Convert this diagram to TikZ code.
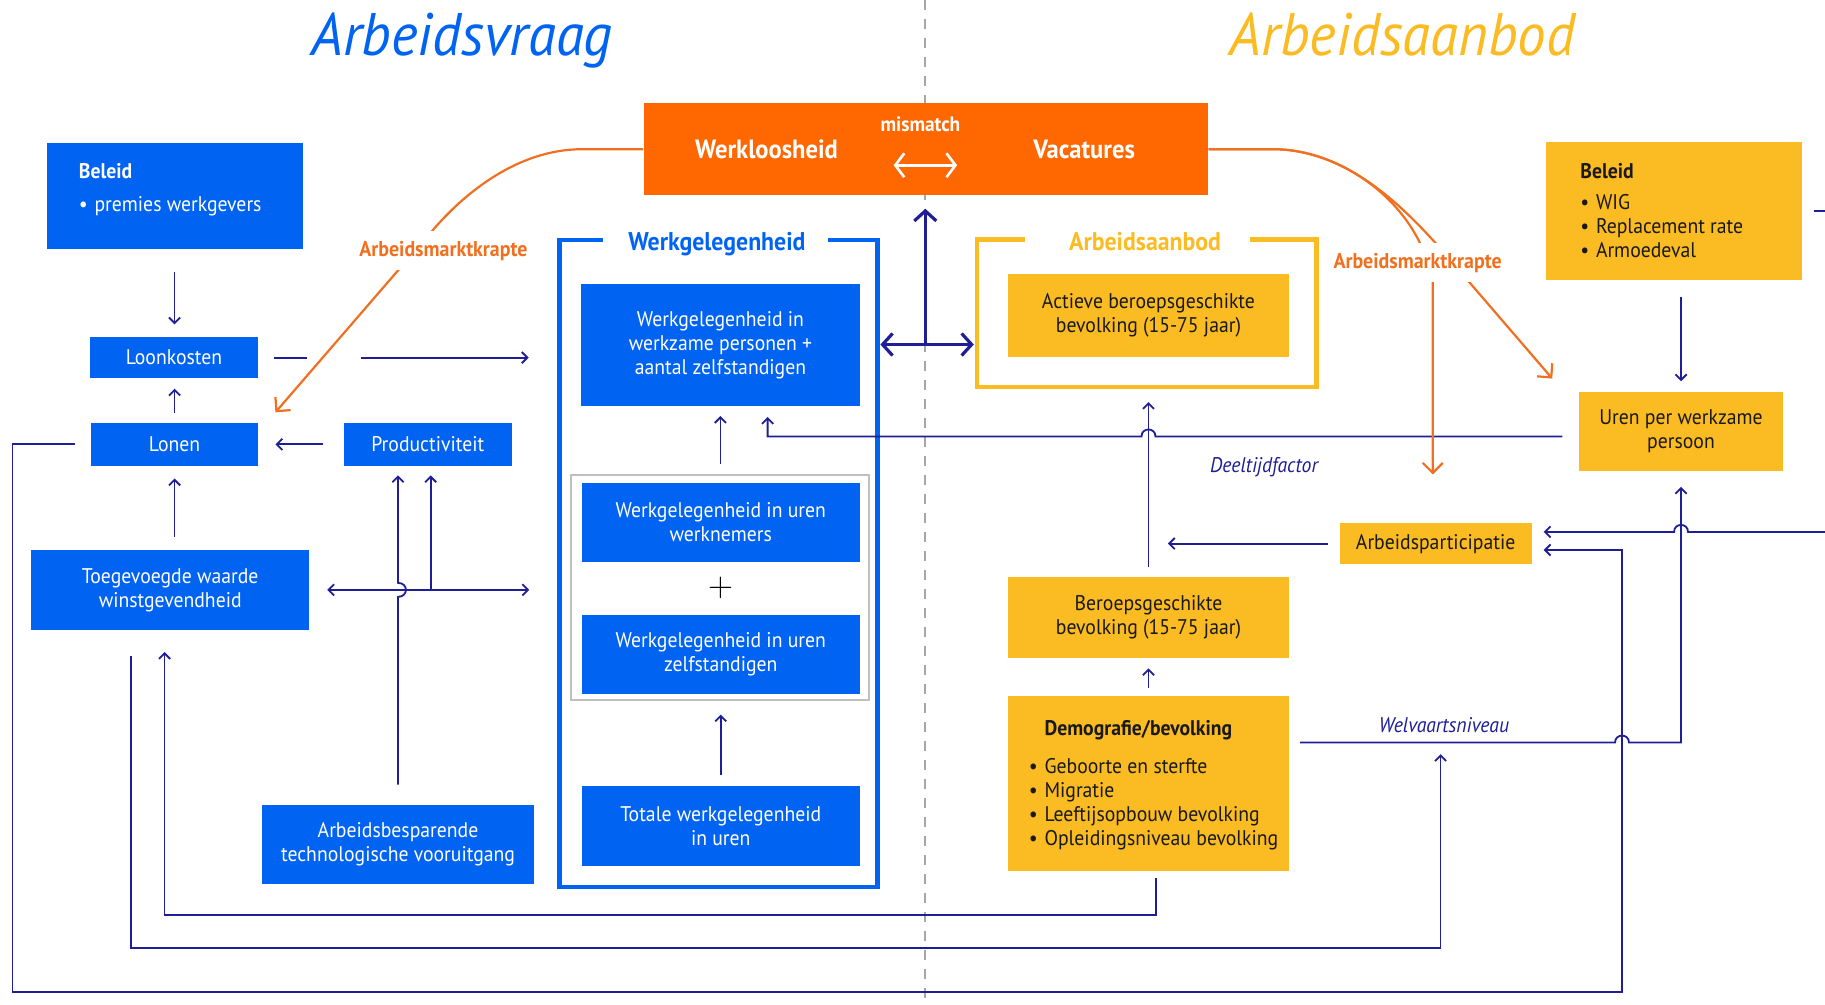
\documentclass[tikz,border=0pt]{standalone}
\usepackage{fontspec}
\setmainfont{PT Sans}[FakeStretch=0.93]
\newfontfamily\titelfont{PT Sans}[FakeStretch=0.95]
\usetikzlibrary{calc}
\usetikzlibrary{arrows.meta}
\usetikzlibrary{positioning}
\usetikzlibrary{fit}
\definecolor{vraagblauw}{RGB}{0,99,241}
\definecolor{aanbodgeel}{RGB}{251,187,34}
\definecolor{krapteoranje}{RGB}{255,104,0}
\definecolor{lijnoranje}{RGB}{240,112,32}
\definecolor{pijlblauw}{RGB}{30,30,150}
\newcommand{\boxfont}{\fontsize{10.6}{12}\selectfont}
\newcommand{\itm}{\makebox[7.8pt][l]{\textbullet}}
\tikzset{
  vraag/.style={fill=vraagblauw, inner sep=0pt},
  aanbod/.style={fill=aanbodgeel, inner sep=0pt},
  vtekst/.style={text=white, align=center, inner sep=0pt, font=\boxfont},
  atekst/.style={text=black!90, align=center, inner sep=0pt, font=\boxfont},
  tekst/.style={anchor=north west, inner sep=0pt, align=left, font=\boxfont},
  titel/.style={anchor=base, font=\titelfont\itshape\fontsize{30}{32}\selectfont},
  kop/.style={anchor=base, font=\bfseries\fontsize{12.8}{14}\selectfont},
  wit/.style={anchor=base, text=white, font=\bfseries\fontsize{13.2}{15}\selectfont},
  pijl/.style={draw=pijlblauw, line width=0.9pt, ->},
  lijn/.style={draw=pijlblauw, line width=0.9pt},
  dik/.style={draw=pijlblauw, line width=1.6pt, >={Straight Barb[length=5pt,width=11pt]}, ->},
  oranje/.style={draw=lijnoranje, line width=1.1pt, >={Straight Barb[length=5pt,width=10pt]}, ->},
  krapte/.style={fill=white, text=lijnoranje, font=\bfseries\fontsize{10.7}{12}\selectfont, inner xsep=2pt, inner ysep=5pt},
  factor/.style={text=pijlblauw, font=\itshape\boxfont, inner sep=0pt},
  kader/.style={line width=2.2pt}
}
\begin{document}
\begin{tikzpicture}[x=0.58195pt, y=-0.58195pt, >={Straight Barb[length=2.8pt,width=5.6pt]}]
\useasboundingbox (0,0) rectangle (1568,863);

% scheidslijn vraag / aanbod
\draw[black!35, line width=1pt, dash pattern=on 5pt off 4.5pt] (795,0) -- (795,863);

% titels
\node[titel, text=vraagblauw] (titelVraag) at (397,47.3) {Arbeidsvraag};
\node[titel, text=aanbodgeel] (titelAanbod) at (1205,47.3) {Arbeidsaanbod};

% mismatch
\node[fill=krapteoranje, inner sep=0pt, fit={(553,88.8) (1038,167.5)}] (mis) {};
\node[wit] (werkl) at (658.6,136) {Werkloosheid};
\node[wit] (vac) at (931.4,136) {Vacatures};
\node[anchor=base, text=white, font=\bfseries\fontsize{10.4}{11}\selectfont] (mm) at (790.8,112.6) {mismatch};
\draw[white, line width=1.3pt, <->, >={Straight Barb[length=4.5pt,width=12pt]}]
     ($(mm.base)+(-23,29.4)$) -- ($(mm.base)+(31.5,29.4)$);

% arbeidsvraag
\node[vraag, fit={(40,122.6) (260,214)}] (beleidV) {};
\node[tekst, text=white] (beleidVtekst) at (67.5,140) {\textbf{Beleid}\\[4.6pt]\itm premies werkgevers};
\node[vraag, fit={(77.5,289.5) (221.5,325)}] (loonkosten) {};
\node[vtekst] (loonkostenT) at (loonkosten) {Loonkosten};
\node[vraag, fit={(78.4,363.6) (221.6,400)}] (lonen) {};
\node[vtekst] (lonenT) at (lonen) {Lonen};
\node[vraag, fit={(295.5,363.6) (439.7,400)}] (product) {};
\node[vtekst] (productT) at (product) {Productiviteit};
\node[vraag, fit={(27,472.6) (265.5,541)}] (toegev) {};
\node[vtekst] (toegevT) at (toegev) {Toegevoegde waarde\\winstgevendheid};
\node[vraag, fit={(225,691.6) (459,759.5)}] (arbbesp) {};
\node[vtekst] (arbbespT) at (arbbesp) {Arbeidsbesparende\\technologische vooruitgang};

% werkgelegenheid
\node[inner sep=0pt, fit={(481,206.8) (753.5,761.8)}] (frameW) {};
\draw[kader, vraagblauw] ($(frameW.north west)+(37,0)$) -- (frameW.north west) -- (frameW.south west)
     -- (frameW.south east) -- (frameW.north east) -- ($(frameW.north east)+(-42.5,0)$);
\node[kop, text=vraagblauw] (kopW) at (616,214.8) {Werkgelegenheid};
\node[vraag, fit={(499.5,244) (738.5,349)}] (wgPers) {};
\node[vtekst] (wgPersT) at (wgPers) {Werkgelegenheid in\\werkzame personen +\\aantal zelfstandigen};
\node[draw=black!25, line width=1pt, inner sep=0pt, fit={(491,408) (747,601)}] (grijs) {};
\node[vraag, fit={(500,415) (738.5,483)}] (wgWerkn) {};
\node[vtekst] (wgWerknT) at (wgWerkn) {Werkgelegenheid in uren\\werknemers};
\node[font=\fontsize{17}{17}\selectfont] (plus) at (619,505) {$+$};
\node[vraag, fit={(500,528) (738.5,596)}] (wgZelf) {};
\node[vtekst] (wgZelfT) at (wgZelf) {Werkgelegenheid in uren\\zelfstandigen};
\node[vraag, fit={(500,675) (738.5,744)}] (totaal) {};
\node[vtekst] (totaalT) at (totaal) {Totale werkgelegenheid\\in uren};

% arbeidsaanbod
\node[inner sep=0pt, fit={(839.6,206) (1130.7,332)}] (frameA) {};
\draw[kader, aanbodgeel] ($(frameA.north west)+(41.4,0)$) -- (frameA.north west) -- (frameA.south west)
     -- (frameA.south east) -- (frameA.north east) -- ($(frameA.north east)+(-56.7,0)$);
\node[kop, text=aanbodgeel] (kopA) at (983.8,214.8) {Arbeidsaanbod};
\node[aanbod, fit={(866,235) (1107.5,307)}] (actief) {};
\node[atekst] (actiefT) at (actief) {Actieve beroepsgeschikte\\bevolking (15-75 jaar)};
\node[aanbod, fit={(1328,122) (1548,240.6)}] (beleidA) {};
\node[tekst, text=black!90] (beleidAtekst) at (1357.5,140) {\textbf{Beleid}\\[3.7pt]\itm WIG\\\itm Replacement rate\\\itm Armoedeval};
\node[aanbod, fit={(1356.6,336.5) (1532,404.7)}] (uren) {};
\node[atekst] (urenT) at (uren) {Uren per werkzame\\persoon};
\node[aanbod, fit={(1151,449.5) (1316,484.6)}] (particip) {};
\node[atekst] (participT) at (particip) {Arbeidsparticipatie};
\node[aanbod, fit={(866,496) (1107.5,565)}] (beroeps) {};
\node[atekst] (beroepsT) at (beroeps) {Beroepsgeschikte\\bevolking (15-75 jaar)};
\node[aanbod, fit={(866,598) (1107.5,748)}] (demog) {};
\node[tekst, text=black!90] (demogtekst) at (883.7,618.6) {\hspace*{7.8pt}\textbf{Demografie/bevolking}\\[7.2pt]\itm Geboorte en sterfte\\\itm Migratie\\\itm Leeftijsopbouw bevolking\\\itm Opleidingsniveau bevolking};

% labels
\node[factor] (deeltijd) at (1086,401) {Deeltijdfactor};
\node[factor] (welvaart) at (1240.6,623) {Welvaartsniveau};

% hulppunten
\coordinate (mknoop) at (795,296);
\coordinate (tak) at (370,506.8);
\coordinate (hoekRechts) at (1393.6,852.6);
\coordinate (welv) at (1237.7,638);
\coordinate (rand) at (1568,457);
\coordinate (kruis) at (986.75,375);

% pijlen arbeidsvraag
\draw[pijl, shorten <=11.3pt, shorten >=6.1pt] (beleidV.south) -- (beleidV.south |- loonkosten.north);
\draw[pijl, shorten <=5pt, shorten >=5pt] (lonen.north) -- (lonen.north |- loonkosten.south);
\draw[pijl, shorten <=8.1pt, shorten >=15.4pt, dash pattern=on 16.4pt off 27pt on 300pt]
     (loonkosten.east) -- (loonkosten.east -| frameW.west);
\draw[pijl, shorten <=10.4pt, shorten >=8.6pt] (product.west) -- (lonen.east);
\draw[pijl, shorten <=6.2pt, shorten >=6.3pt] (toegev.north -| lonen.south) -- (lonen.south);
\draw[pijl, <->, shorten <=8.9pt, shorten >=15.1pt] (toegev.east) -- (toegev.east -| frameW.west);
\draw[pijl, shorten >=4.7pt] (tak) -- (tak |- product.south);
\draw[pijl, shorten <=10pt, shorten >=4.7pt] (arbbesp.north) -- ($(arbbesp.north |- tak)+(0,6)$)
     .. controls +(9,0) and +(9,0) .. ($(arbbesp.north |- tak)+(0,-6)$) -- (arbbesp.north |- product.south);
\draw[pijl, shorten <=8.1pt, shorten >=5.8pt] (lonen.west) -- ++(-67.4,0) |- (hoekRechts)
     |- ($(particip.east)+(0,5.5)$);
\draw[pijl, shorten <=3.5pt, shorten >=11pt] ($(demog.south)+(6.25,0)$) -- ++(0,38) -| ($(toegev.south)+(-4.85,0)$);
\draw[pijl, shorten <=13pt, shorten >=5.8pt] ($(toegev.south)+(-33.75,0)$) -- ++(0,273) -| (welv);

% werkgelegenheid
\draw[pijl, shorten <=4.7pt, shorten >=4.7pt] (grijs.north) -- (grijs.north |- wgPers.south);
\draw[pijl, shorten <=5.2pt, shorten >=7pt] (totaal.north) -- (totaal.north |- grijs.south);
\draw[dik, shorten >=6.7pt] (mknoop) -- (mknoop |- mis.south);
\draw[dik, <->, shorten <=1.5pt, shorten >=1.5pt] (mknoop -| frameW.east) -- (mknoop -| frameA.west);

% pijlen arbeidsaanbod
\draw[pijl, shorten <=4.7pt, shorten >=7.6pt] (beroeps.north) -- (beroeps.north |- frameA.south);
\draw[pijl, shorten <=5.8pt, shorten >=9.7pt] (particip.west) -- (particip.west -| beroeps.north);
\draw[pijl, shorten <=4pt, shorten >=5.2pt] (demog.north) -- (beroeps.south);
\draw[pijl, shorten <=8.4pt, shorten >=5pt] (beleidA.south -| uren.north) -- (uren.north);
\draw[lijn, shorten <=5.8pt] (beleidA.east) -- (beleidA.east -| rand);
\draw[pijl, shorten <=5.4pt, shorten >=7.7pt] (demog.east |- welv) -- ($(hoekRechts |- welv)+(-6,0)$)
     .. controls +(0,-8) and +(0,-8) .. ($(hoekRechts |- welv)+(6,0)$) -| (uren.south);
\draw[pijl, shorten >=5.8pt] (rand) -- ($(uren.south |- rand)+(6,0)$)
     .. controls +(0,-8) and +(0,-8) .. ($(uren.south |- rand)+(-6,0)$) -- ($(particip.east)+(0,-10)$);
\draw[pijl, shorten <=8.1pt, shorten >=5.2pt] (uren.west |- kruis) -- ($(kruis)+(6,0)$)
     .. controls +(0,-8) and +(0,-8) .. ($(kruis)+(-6,0)$) -| ($(wgPers.south)+(40.5,0)$);

% arbeidsmarktkrapte
\draw[oranje] (mis.west) -- (500,128.2) .. controls (445,128.2) and (399,166) .. (372,197.6)
     -- ($(lonen.north east)+(14.7,-9)$);
\draw[oranje] (mis.east) -- (1094,128.2) .. controls (1150,128.2) and (1218,172) .. (1231,242)
     -- ($(particip.north)+(-2.5,-41.5)$);
\draw[oranje] (mis.east) -- (1094,128.2) .. controls (1170,128.2) and (1226,200) .. (1262,242)
     -- ($(uren.north west)+(-22.6,-10.9)$);
\node[krapte] (krapteV) at (381,215.4) {Arbeidsmarktkrapte};
\node[krapte] (krapteA) at (1218,225.7) {Arbeidsmarktkrapte};
\end{tikzpicture}
\end{document}
